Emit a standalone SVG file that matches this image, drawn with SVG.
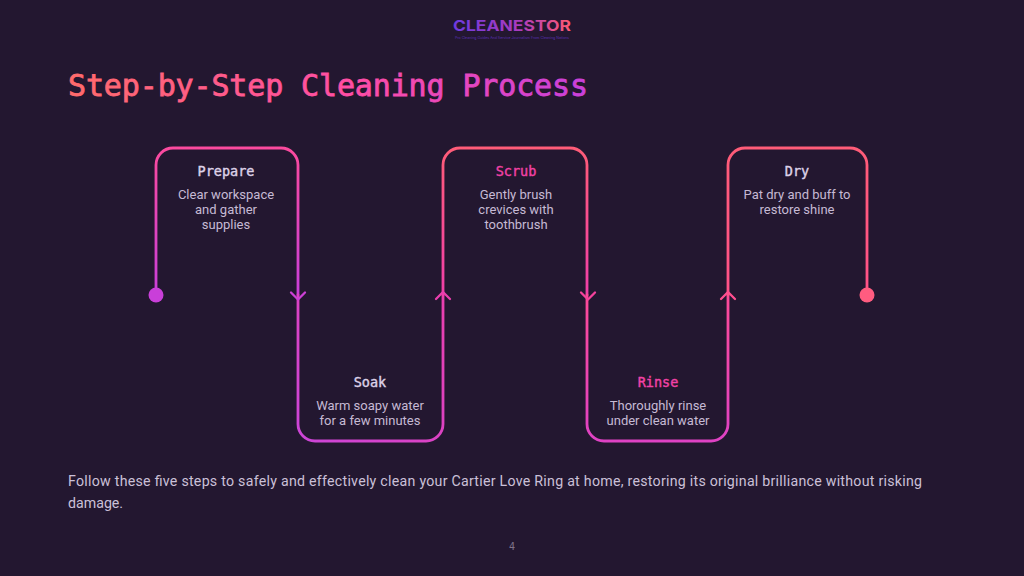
<svg xmlns="http://www.w3.org/2000/svg" width="1024" height="576" viewBox="0 0 1024 576">
<style>
.ttl{font:400 13.5px "DejaVu Sans Mono",monospace;text-anchor:middle;fill:#ddd2e8;stroke:#ddd2e8;stroke-width:.4}
.pk{fill:#f242a6;stroke:#f242a6}
.dsc{font:400 13px "Roboto",sans-serif;text-anchor:middle;fill:#c6bad4}
.body{font:400 14.2px "Roboto",sans-serif;fill:#cbc0d8}
.ln{fill:none;stroke-width:2.8;stroke-linecap:round;stroke-linejoin:round}
.ah{fill:none;stroke-width:2.3;stroke-linecap:round;stroke-linejoin:round}
</style>
<defs>
<linearGradient id="g1" gradientUnits="userSpaceOnUse" x1="0" y1="295" x2="0" y2="148"><stop offset="0" stop-color="#c93fd9"/><stop offset="1" stop-color="#fb4a9e"/></linearGradient>
<linearGradient id="g2" gradientUnits="userSpaceOnUse" x1="298" y1="441" x2="443" y2="295"><stop offset="0" stop-color="#cc45d8"/><stop offset="1" stop-color="#ea3fae"/></linearGradient>
<linearGradient id="g3" gradientUnits="userSpaceOnUse" x1="0" y1="295" x2="0" y2="148"><stop offset="0" stop-color="#f03fa8"/><stop offset="1" stop-color="#ff5c78"/></linearGradient>
<linearGradient id="g4" gradientUnits="userSpaceOnUse" x1="0" y1="441" x2="0" y2="295"><stop offset="0" stop-color="#df42c4"/><stop offset="1" stop-color="#fc4a98"/></linearGradient>
<linearGradient id="g5" gradientUnits="userSpaceOnUse" x1="0" y1="295" x2="0" y2="148"><stop offset="0" stop-color="#ff5288"/><stop offset="1" stop-color="#ff5c78"/></linearGradient>
<linearGradient id="tg" gradientUnits="userSpaceOnUse" x1="68" y1="0" x2="588" y2="0">
<stop offset="0" stop-color="#ff6b6b"/><stop offset=".55" stop-color="#ff4da6"/><stop offset="1" stop-color="#c840dc"/>
</linearGradient>
<linearGradient id="lg" gradientUnits="userSpaceOnUse" x1="453" y1="0" x2="571" y2="0">
<stop offset="0" stop-color="#6d3be0"/><stop offset=".55" stop-color="#a83bc0"/><stop offset="1" stop-color="#ff5a72"/>
</linearGradient>
</defs>
<rect width="1024" height="576" fill="#231730"/>
<g id="logo">
<text x="512" y="31" text-anchor="middle" textLength="118" lengthAdjust="spacingAndGlyphs" style="font:700 15px 'Inter',sans-serif" fill="url(#lg)">CLEANESTOR</text>
<text x="512" y="38.500" text-anchor="middle" textLength="114" lengthAdjust="spacingAndGlyphs" style="font:400 3.400px 'Inter',sans-serif" fill="#5a2fb0">Pro Cleaning Guides And Service Journalism From Cleaning Nations</text>
</g>
<text id="title" x="68" y="96" textLength="520" style="font:400 30px 'DejaVu Sans Mono',monospace;stroke:url(#tg);stroke-width:.8" fill="url(#tg)">Step-by-Step Cleaning Process</text>
<g id="connectors">
<path class="ln" stroke="url(#g1)" d="M156 295V165a17 17 0 0 1 17-17H281a17 17 0 0 1 17 17V295"/>
<path class="ln" stroke="url(#g2)" d="M298 295V424a17 17 0 0 0 17 17H426a17 17 0 0 0 17-17V295"/>
<path class="ln" stroke="url(#g3)" d="M443 295V165a17 17 0 0 1 17-17H570a17 17 0 0 1 17 17V295"/>
<path class="ln" stroke="url(#g4)" d="M587 295V424a17 17 0 0 0 17 17H711a17 17 0 0 0 17-17V295"/>
<path class="ln" stroke="url(#g5)" d="M728 295V165a17 17 0 0 1 17-17H850a17 17 0 0 1 17 17V295"/>
<path class="ah" stroke="#cc40d6" d="M291 292.500L298 299.500L305 292.500"/>
<path class="ah" stroke="#ea3fae" d="M436 299L443 292L450 299"/>
<path class="ah" stroke="#f5429c" d="M581 292.500L588 299.500L595 292.500"/>
<path class="ah" stroke="#ff4f90" d="M721 299L728 292L735 299"/>
<circle cx="156" cy="295" r="7.500" fill="#c93fd9"/>
<circle cx="867" cy="295" r="7.500" fill="#ff5c80"/>
</g>
<g id="prepare"><text class="ttl" x="226" y="176">Prepare</text>
<text class="dsc" x="226" y="199">Clear workspace</text><text class="dsc" x="226" y="214">and gather</text><text class="dsc" x="226" y="229">supplies</text></g>
<g id="soak"><text class="ttl" x="370" y="387">Soak</text>
<text class="dsc" x="370" y="410">Warm soapy water</text><text class="dsc" x="370" y="425">for a few minutes</text></g>
<g id="scrub"><text class="ttl pk" x="516" y="176">Scrub</text>
<text class="dsc" x="516" y="199">Gently brush</text><text class="dsc" x="516" y="214">crevices with</text><text class="dsc" x="516" y="229">toothbrush</text></g>
<g id="rinse"><text class="ttl pk" x="658" y="387">Rinse</text>
<text class="dsc" x="658" y="410">Thoroughly rinse</text><text class="dsc" x="658" y="425">under clean water</text></g>
<g id="dry"><text class="ttl" x="797" y="176">Dry</text>
<text class="dsc" x="797" y="199">Pat dry and buff to</text><text class="dsc" x="797" y="214">restore shine</text></g>
<g id="summary"><text class="body" x="68" y="486" textLength="854">Follow these five steps to safely and effectively clean your Cartier Love Ring at home, restoring its original brilliance without risking</text>
<text class="body" x="68" y="508">damage.</text></g>
<text id="page" x="512" y="550" text-anchor="middle" style="font:400 10px 'DejaVu Sans Mono',monospace" fill="#7f7389">4</text>
</svg>
